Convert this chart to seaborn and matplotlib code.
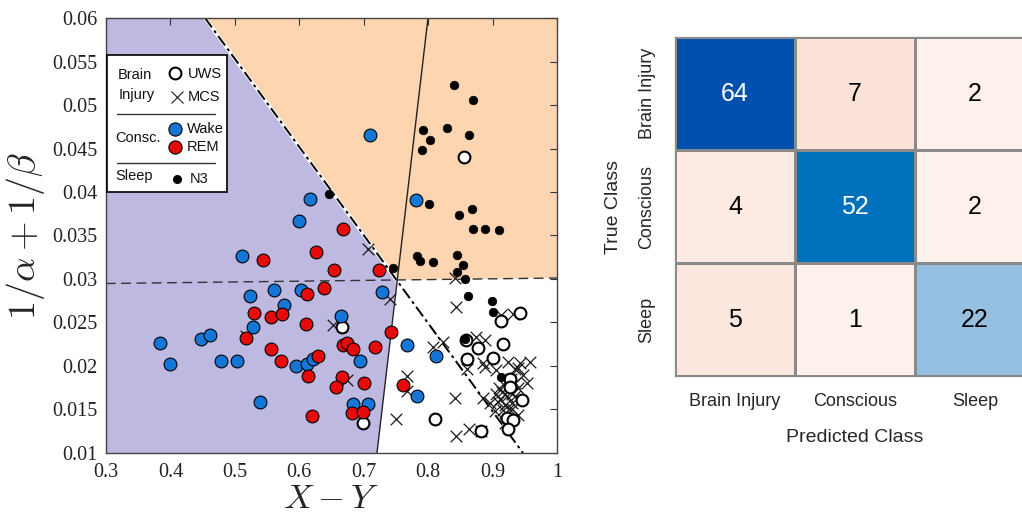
import numpy as np
import pandas as pd
import matplotlib
matplotlib.use("Agg")
import matplotlib.pyplot as plt
import seaborn as sns
from matplotlib.colors import LinearSegmentedColormap
from matplotlib.patches import Rectangle, Polygon

# ---------------- data ----------------
n3_x = [0.8406, 0.8696, 0.792, 0.8286, 0.8638, 0.8029, 0.7905, 0.8008, 0.8474, 0.8675, 0.8701, 0.8882, 0.910,
        0.6456, 0.7459, 0.7832, 0.7874, 0.808, 0.8448, 0.8546, 0.8443, 0.8572, 0.8624, 0.8997, 0.9007, 0.8572, 0.9125]
n3_y = [0.0523, 0.0506, 0.0471, 0.0473, 0.0465, 0.0460, 0.0448, 0.0386, 0.0373, 0.0380, 0.0358, 0.0358, 0.0356,
        0.0398, 0.0313, 0.0326, 0.0321, 0.0320, 0.0328, 0.0316, 0.0308, 0.0300, 0.0280, 0.0275, 0.0262, 0.0231, 0.0187]

wake_x = [0.6166, 0.599, 0.5106, 0.5235, 0.5607, 0.6027, 0.5758, 0.5286, 0.3838, 0.3993, 0.447, 0.4619, 0.4785, 0.5038,
          0.5944, 0.6115, 0.6207, 0.5395, 0.7289, 0.6643, 0.6942, 0.6838, 0.7071, 0.7097, 0.7816, 0.7677, 0.8127, 0.7832]
wake_y = [0.0392, 0.0367, 0.0326, 0.0281, 0.0287, 0.0287, 0.0270, 0.0245, 0.0226, 0.0202, 0.0231, 0.0236, 0.0206, 0.0206,
          0.0200, 0.0202, 0.0208, 0.0159, 0.0285, 0.0258, 0.0206, 0.0156, 0.0156, 0.0466, 0.0391, 0.0224, 0.0211, 0.0166]

rem_x = [0.6672, 0.5432, 0.6264, 0.6544, 0.7242, 0.6115, 0.6388, 0.5297, 0.5556, 0.5736, 0.6109, 0.5178, 0.5556, 0.5711,
         0.6295, 0.614, 0.6202, 0.7418, 0.6672, 0.6745, 0.6827, 0.7175, 0.6657, 0.657, 0.7009, 0.6813, 0.6983, 0.7605]
rem_y = [0.0357, 0.0322, 0.0331, 0.0310, 0.0310, 0.0283, 0.0290, 0.0261, 0.0256, 0.0260, 0.0248, 0.0232, 0.0220, 0.0206,
         0.0211, 0.0189, 0.0142, 0.0239, 0.0224, 0.0226, 0.0220, 0.0222, 0.0187, 0.0176, 0.0181, 0.0146, 0.0147, 0.0178]

uws_x = [0.8556, 0.6657, 0.9426, 0.9125, 0.859, 0.8778, 0.9167, 0.8598, 0.9011, 0.927, 0.927, 0.945, 0.922, 0.9312,
         0.9244, 0.6994, 0.8106, 0.8815]
uws_y = [0.0440, 0.0245, 0.0261, 0.0252, 0.0230, 0.0221, 0.0225, 0.0208, 0.0209, 0.0185, 0.0176, 0.0161, 0.0140, 0.0138,
         0.0128, 0.0135, 0.0139, 0.0125]

mcs_x = [0.518, 0.6528, 0.7071, 0.8417, 0.7408, 0.8432, 0.9138, 0.932, 0.808, 0.8224, 0.875, 0.888, 0.6735, 0.7677,
         0.7667, 0.8417, 0.7501, 0.8427, 0.8638, 0.8815, 0.8856, 0.9244, 0.9426, 0.9581, 0.8880, 0.9348, 0.9477, 0.953,
         0.8856, 0.896, 0.9089, 0.922, 0.9038, 0.9167, 0.9297, 0.94, 0.9192, 0.9053, 0.8598, 0.940, 0.910, 0.915,
         0.925, 0.930, 0.935, 0.920, 0.925, 0.930, 0.912, 0.918, 0.928, 0.935, 0.905, 0.940]
mcs_y = [0.0235, 0.0247, 0.0334, 0.0301, 0.0277, 0.0268, 0.0259, 0.0260, 0.0222, 0.0228, 0.0233, 0.0230, 0.0184, 0.0188,
         0.0171, 0.0163, 0.0139, 0.0120, 0.0128, 0.0125, 0.0203, 0.0205, 0.0203, 0.0205, 0.0199, 0.0197, 0.0190, 0.0180,
         0.0163, 0.0157, 0.0159, 0.0165, 0.0148, 0.0149, 0.0151, 0.0144, 0.0134, 0.0195, 0.0197, 0.0198, 0.0175, 0.0170,
         0.0172, 0.0168, 0.0165, 0.0155, 0.0150, 0.0158, 0.0162, 0.0178, 0.0185, 0.0180, 0.0168, 0.0175]

# decision boundaries (end points in data units)
dashdot_x = [0.4537, 0.9472]
dashdot_y = [0.06, 0.01]
solid_x = [0.7998, 0.7206]
solid_y = [0.06, 0.01]
dashed_x = [0.3, 1.0]
dashed_y = [0.02948, 0.03011]

x_ticks = [0.3, 0.4, 0.5, 0.6, 0.7, 0.8, 0.9, 1.0]
x_ticklabels = ["0.3", "0.4", "0.5", "0.6", "0.7", "0.8", "0.9", "1"]
y_ticks = [0.01, 0.015, 0.02, 0.025, 0.03, 0.035, 0.04, 0.045, 0.05, 0.055, 0.06]
y_ticklabels = ["0.01", "0.015", "0.02", "0.025", "0.03", "0.035", "0.04", "0.045", "0.05", "0.055", "0.06"]

classes = ["Brain Injury", "Conscious", "Sleep"]
conf = [[64, 7, 2],
        [4, 52, 2],
        [5, 1, 22]]

# ---------------- style ----------------
sns.set_style("white")
plt.rcParams["font.family"] = ["Liberation Sans", "DejaVu Sans"]
plt.rcParams["mathtext.fontset"] = "cm"

fig = plt.figure(figsize=(10.22, 5.19), dpi=100)

# ---------------- left: scatter ----------------
ax = fig.add_axes([0.1037, 0.1272, 0.4413, 0.8381])
xmin, xmax, ymin, ymax = 0.3, 1.0, 0.01, 0.06
ax.set_xlim(xmin, xmax)
ax.set_ylim(ymin, ymax)

def line_params(xs, ys):
    m = (ys[1] - ys[0]) / (xs[1] - xs[0])
    return m, ys[0] - m * xs[0]

m1, b1 = line_params(dashdot_x, dashdot_y)
m3, b3 = line_params(dashed_x, dashed_y)
px = (b3 - b1) / (m1 - m3)
py = m1 * px + b1
top_x = (ymax - b1) / m1
ms, bs = line_params(solid_x, solid_y)
bot_solid_x = (ymin - bs) / ms

purple = "#bdb9e0"
orange = "#fdd5b0"
ax.add_patch(Polygon([(xmin, ymin), (xmin, ymax), (top_x, ymax), (px, py), (bot_solid_x, ymin)],
                     closed=True, facecolor=purple, edgecolor="none", zorder=0))
ax.add_patch(Polygon([(top_x, ymax), (xmax, ymax), (xmax, m3 * xmax + b3), (px, py)],
                     closed=True, facecolor=orange, edgecolor="none", zorder=0))

# boundary lines
ax.plot(dashdot_x, dashdot_y, color="white", lw=2.6, zorder=1)
ax.plot(dashdot_x, dashdot_y, color="black", lw=1.4, linestyle=(0, (6, 2, 1.5, 2)), zorder=1.1)
ax.plot(solid_x, solid_y, color="#222222", lw=1.0, zorder=1.1)
ax.plot(dashed_x, dashed_y, color="#333333", lw=1.0, linestyle=(0, (7, 4)), zorder=1.1)

# points
sns.scatterplot(x=mcs_x, y=mcs_y, ax=ax, marker="x", s=70, color="#1a1a1a", linewidth=0.9, zorder=3)
sns.scatterplot(x=uws_x, y=uws_y, ax=ax, marker="o", s=72, facecolor="white", edgecolor="black",
                linewidth=1.5, zorder=3)
sns.scatterplot(x=wake_x, y=wake_y, ax=ax, marker="o", s=85, color="#1477d8", edgecolor="black",
                linewidth=0.8, zorder=4)
sns.scatterplot(x=rem_x, y=rem_y, ax=ax, marker="o", s=85, color="#e60a0a", edgecolor="black",
                linewidth=0.8, zorder=4)
sns.scatterplot(x=n3_x, y=n3_y, ax=ax, marker="o", s=38, color="black", edgecolor="black",
                linewidth=0.5, zorder=5)

ax.set_xticks(x_ticks)
ax.set_xticklabels(x_ticklabels, fontfamily="Liberation Serif", fontsize=14.5)
ax.set_yticks(y_ticks)
ax.set_yticklabels(y_ticklabels, fontfamily="Liberation Serif", fontsize=14.5)
ax.tick_params(direction="in", top=True, right=True, length=5, width=0.8, color="#333333",
               labelcolor="#222222")
ax.tick_params(axis="x", pad=7)
ax.tick_params(axis="y", pad=6)
for sp in ax.spines.values():
    sp.set_color("#444444")
    sp.set_linewidth(1.0)
ax.set_xlabel(r"$X-Y$", fontsize=25, labelpad=0)
ax.set_ylabel(r"$1/\alpha+1/\beta$", fontsize=27.5, labelpad=4)

# custom legend box
tr = ax.transAxes
ax.add_patch(Rectangle((0.003, 0.60), 0.265, 0.315, transform=tr, facecolor="white",
                       edgecolor="black", lw=1.2, zorder=10))
lt = dict(transform=tr, fontsize=10.5, va="center", ha="left", zorder=11, color="#111111")
ax.text(0.027, 0.869, "Brain", **lt)
ax.text(0.027, 0.823, "Injury", **lt)
ax.text(0.182, 0.872, "UWS", **lt)
ax.text(0.182, 0.818, "MCS", **lt)
ax.text(0.020, 0.725, "Consc.", **lt)
ax.text(0.180, 0.745, "Wake", **lt)
ax.text(0.180, 0.703, "REM", **lt)
ax.text(0.020, 0.636, "Sleep", **lt)
ax.text(0.185, 0.630, "N3", **lt)
ax.plot([0.153], [0.874], marker="o", ms=8.5, mfc="white", mec="black", mew=1.5, transform=tr, zorder=11, clip_on=False)
ax.plot([0.157], [0.818], marker="x", ms=8.5, color="#333333", mew=0.9, transform=tr, zorder=11, clip_on=False)
ax.plot([0.152], [0.745], marker="o", ms=9.5, mfc="#1477d8", mec="black", mew=0.8, transform=tr, zorder=11, clip_on=False)
ax.plot([0.153], [0.704], marker="o", ms=9.5, mfc="#e60a0a", mec="black", mew=0.8, transform=tr, zorder=11, clip_on=False)
ax.plot([0.157], [0.631], marker="o", ms=5.5, mfc="black", mec="black", transform=tr, zorder=11, clip_on=False)
ax.plot([0.025, 0.242], [0.779, 0.779], color="#333333", lw=1.0, transform=tr, zorder=11)
ax.plot([0.025, 0.242], [0.667, 0.667], color="#333333", lw=1.0, transform=tr, zorder=11)

# ---------------- right: confusion matrix ----------------
ax2 = fig.add_axes([0.6605, 0.2755, 0.3523, 0.6532])
cm = pd.DataFrame(conf, index=classes, columns=classes)
diag_mask = ~np.eye(3, dtype=bool)
off_mask = np.eye(3, dtype=bool)
cmap_diag = LinearSegmentedColormap.from_list(
    "diag", [(0.0, "#ffffff"), (22 / 64, "#96c0e1"), (52 / 64, "#0072bd"), (1.0, "#0051ae")])
cmap_off = LinearSegmentedColormap.from_list("off", [(0.0, "#fff5f1"), (1.0, "#fadacd")])
hm_kw = dict(annot=True, fmt="d", cbar=False, linewidths=0.9, linecolor="#8a8a8a", ax=ax2,
             annot_kws={"fontsize": 18})
sns.heatmap(cm, mask=diag_mask, cmap=cmap_diag, vmin=0, vmax=64, **hm_kw)
sns.heatmap(cm, mask=off_mask, cmap=cmap_off, vmin=0, vmax=10, **hm_kw)
for t in ax2.texts:
    if t.get_color() != "w":
        t.set_color("black")
ax2.set_xticklabels(classes, rotation=0, fontsize=13, color="#262626")
ax2.set_yticklabels(classes, rotation=90, va="center", fontsize=13, color="#262626")
ax2.tick_params(length=0, pad=12)
ax2.tick_params(axis="y", pad=14)
ax2.set_xlabel("Predicted Class", fontsize=14, color="#262626", labelpad=14)
ax2.set_ylabel("True Class", fontsize=14, color="#262626", labelpad=12)
for sp in ax2.spines.values():
    sp.set_visible(True)
    sp.set_color("#8a8a8a")
    sp.set_linewidth(0.9)

fig.savefig("out.png", dpi=100)
